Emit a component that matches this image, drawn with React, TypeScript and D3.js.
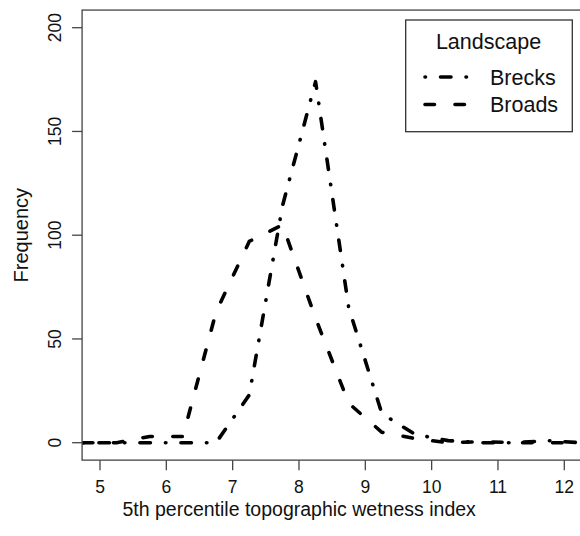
import React from 'react';
import * as d3 from 'd3';

const xs = [4.75, 5.25, 5.75, 6.25, 6.75, 7.25, 7.75, 8.25, 8.75, 9.25, 9.75, 10.25, 10.75, 11.25, 11.75, 12.25, 12.75];
const brecks = [0, 0, 0, 0, 0, 23, 114, 174, 65, 14, 4, 1, 0, 0, 1, 0, 0];
const broads = [0, 0, 3, 3, 63, 97, 105, 60, 19, 5, 2, 0, 0.5, 0, 0, 0, 0];
const xTicks = [5, 6, 7, 8, 9, 10, 11, 12];
const yTicks = [0, 50, 100, 150, 200];

const series = [
    { name: 'Brecks', values: brecks, dash: '0.5,15,10.5,15' },
    { name: 'Broads', values: broads, dash: '9.5,20.5' },
];

export default function App() {
    const width = 580;
    const height = 536;
    const font = 'Liberation Sans, Arial, Helvetica, sans-serif';

    const xScale = d3.scaleLinear().domain([5, 12]).range([100, 564.3]);
    const yScale = d3.scaleLinear().domain([0, 200]).range([442.7, 27.7]);

    const left = xScale(4.73);
    const top = yScale(208.5);
    const bottom = yScale(-8.4);
    const right = 640;

    const lineGenerator = (vals: number[]) =>
        d3.line<number>()
            .x((d, i) => xScale(xs[i]))
            .y(d => yScale(d))(vals);

    return (
        <svg width={width} height={height} style={{ position: 'absolute', left: 0, top: 0, background: '#fff' }}>
            <defs>
                <clipPath id="plot">
                    <rect x={left} y={top} width={right - left} height={bottom - top} />
                </clipPath>
            </defs>
            <rect x={0} y={0} width={width} height={height} fill="#fff" />

            <g clipPath="url(#plot)">
                {series.map(s => (
                    <path key={s.name} d={lineGenerator(s.values) || ''} fill="none" stroke="#000"
                        strokeWidth={3.6} strokeDasharray={s.dash} strokeLinecap="round" strokeLinejoin="round" />
                ))}
            </g>

            <rect x={left} y={top} width={right - left} height={bottom - top} fill="none" stroke="#444" strokeWidth={1.3} />

            {/* x axis */}
            {xTicks.map(t => (
                <g key={t}>
                    <line x1={xScale(t)} x2={xScale(t)} y1={bottom} y2={bottom + 10} stroke="#444" strokeWidth={1.3} />
                    <text x={xScale(t)} y={493} textAnchor="middle" fontFamily={font} fontSize={17.5} fill="#111">{t}</text>
                </g>
            ))}
            <text x={(100 + 564.3) / 2 - 33} y={516} textAnchor="middle" fontFamily={font} fontSize={19.5} fill="#111">
                5th percentile topographic wetness index
            </text>

            {/* y axis */}
            {yTicks.map(t => (
                <g key={t}>
                    <line x1={left - 10} x2={left} y1={yScale(t)} y2={yScale(t)} stroke="#444" strokeWidth={1.3} />
                    <text transform={`translate(61,${yScale(t)}) rotate(-90)`} textAnchor="middle"
                        fontFamily={font} fontSize={17.5} fill="#111">{t}</text>
                </g>
            ))}
            <text transform={`translate(28,${yScale(100)}) rotate(-90)`} textAnchor="middle"
                fontFamily={font} fontSize={20} fill="#111">Frequency</text>

            {/* legend */}
            <rect x={405.7} y={20} width={166.6} height={111.7} fill="#fff" stroke="#333" strokeWidth={1.3} />
            <text x={488.5} y={49} textAnchor="middle" fontFamily={font} fontSize={21.5} fill="#111">Landscape</text>
            {series.map((s, i) => (
                <g key={s.name}>
                    <line x1={425} x2={468} y1={77 + i * 27.5} y2={77 + i * 27.5} stroke="#000" strokeWidth={3.6}
                        strokeDasharray={s.dash} strokeLinecap="round" />
                    <text x={490} y={84.5 + i * 27.5} fontFamily={font} fontSize={21.5} fill="#111">{s.name}</text>
                </g>
            ))}
        </svg>
    );
}
